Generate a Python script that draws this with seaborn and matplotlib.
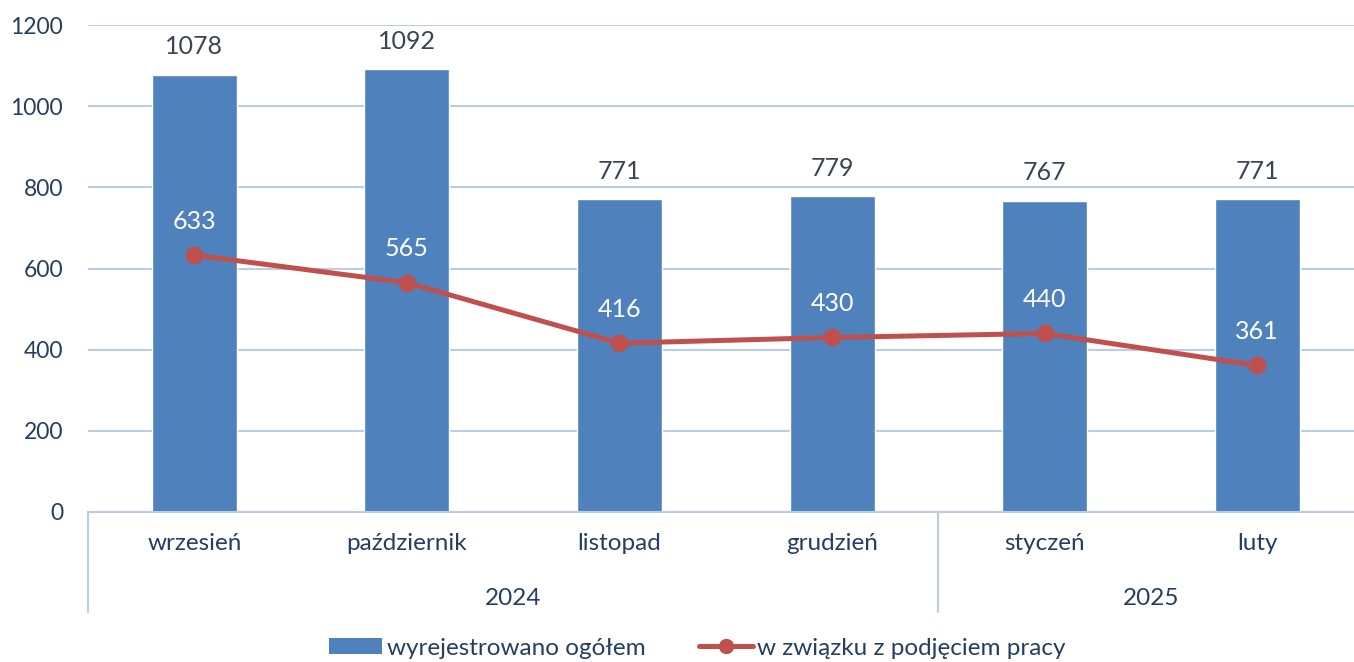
import numpy as np
import matplotlib.pyplot as plt
import matplotlib.transforms as mtransforms
from matplotlib.patches import Patch
from matplotlib.lines import Line2D
import seaborn as sns

# data
months = ["wrzesień", "październik", "listopad", "grudzień", "styczeń", "luty"]
years = ["2024", "2025"]
months_per_year = [4, 2]
total = [1078, 1092, 771, 779, 767, 771]
employed = [633, 565, 416, 430, 440, 361]
yticks = [0, 200, 400, 600, 800, 1000, 1200]
series_names = ["wyrejestrowano ogółem", "w związku z podjęciem pracy"]

bar_color = "#4F81BD"
line_color = "#C0504D"
grid_color = "#B9CDE5"
text_color = "#243F60"
value_color = "#3B4452"

sns.set_theme(style="white")
plt.rcParams['font.family'] = ['Lato', 'DejaVu Sans']

fig = plt.figure(figsize=(13.54, 6.62), dpi=100)
ax = fig.add_axes([0.065, 0.2266, 0.942, 0.7356])

sns.barplot(x=months, y=total, color=bar_color, width=0.4, saturation=1, ax=ax)
sns.pointplot(x=months, y=employed, color=line_color, errorbar=None,
              linewidth=3.6, markersize=10, ax=ax)

ax.set_xlim(-0.5, len(months) - 0.5)
ax.set_ylim(0, 1200)
ax.set_yticks(yticks)
ax.yaxis.grid(True, color=grid_color, lw=1.5)
ax.set_axisbelow(True)
for s in ["top", "right", "left"]:
    ax.spines[s].set_visible(False)
ax.spines["bottom"].set_color(grid_color)
ax.spines["bottom"].set_linewidth(1.5)
ax.tick_params(axis="y", length=0, pad=18, labelsize=16.5, labelcolor=text_color)
ax.tick_params(axis="x", length=0, pad=15, labelsize=17.5, labelcolor=text_color)
ax.set_xlabel("")
ax.set_ylabel("")

# value labels
for i, v in enumerate(total):
    ax.annotate(str(v), (i, v), xytext=(0, 20), textcoords="offset points",
                ha="center", va="center", fontsize=18, color=value_color)
for i, v in enumerate(employed):
    ax.annotate(str(v), (i, v), xytext=(0, 24.5), textcoords="offset points",
                ha="center", va="center", fontsize=18, color="white")

# year grouping under the month labels
trans = mtransforms.blended_transform_factory(ax.transData, ax.transAxes)
start = -0.5
ax.plot([start, start], [0, -0.205], color=grid_color, lw=1.5,
        transform=trans, clip_on=False)
for yr, n in zip(years, months_per_year):
    end = start + n
    ax.text((start + end) / 2, -0.177, yr, transform=trans, ha="center",
            va="center", fontsize=17.5, color=text_color)
    ax.plot([end, end], [0, -0.205], color=grid_color, lw=1.5,
            transform=trans, clip_on=False)
    start = end

handles = [Patch(facecolor=bar_color, edgecolor="none"),
           Line2D([], [], color=line_color, lw=3.6, marker="o", markersize=10)]
fig.legend(handles, series_names, loc="center", bbox_to_anchor=(0.515, 0.021),
           ncol=2, frameon=False, fontsize=17.5, labelcolor=text_color,
           handlelength=2.2, handleheight=0.65, handletextpad=0.2,
           columnspacing=2.2)

fig.savefig("out.png", dpi=100)
